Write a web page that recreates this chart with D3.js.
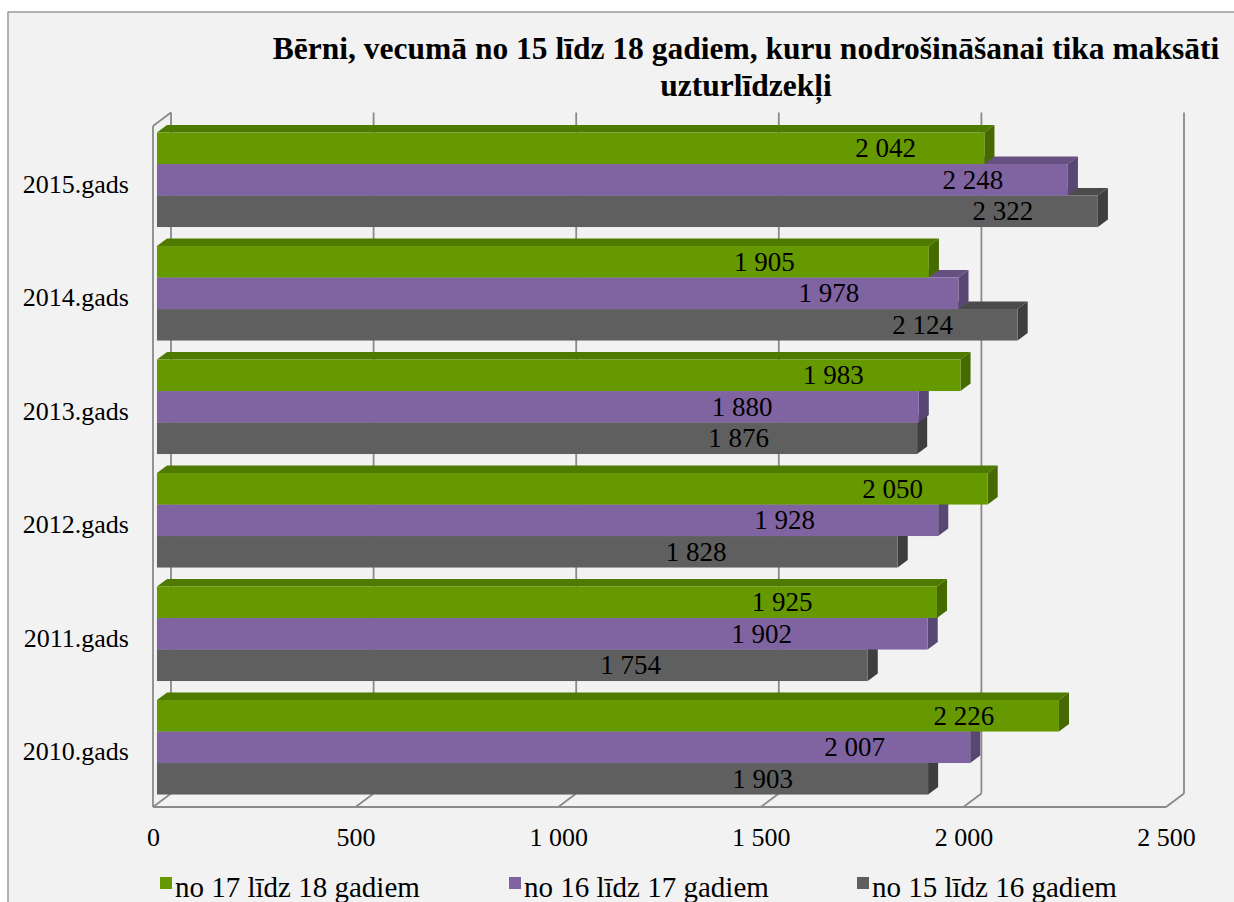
<!DOCTYPE html>
<html>
<head>
<meta charset="utf-8">
<script src="https://cdn.jsdelivr.net/npm/d3@7"></script>
</head>
<body style="margin:0">
<svg id="chart" width="1234" height="902"></svg>
<script>
var years = ["2015.gads", "2014.gads", "2013.gads", "2012.gads", "2011.gads", "2010.gads"];
var age17to18 = [2042, 1905, 1983, 2050, 1925, 2226];
var age16to17 = [2248, 1978, 1880, 1928, 1902, 2007];
var age15to16 = [2322, 2124, 1876, 1828, 1754, 1903];
var seriesNames = ["no 17 līdz 18 gadiem", "no 16 līdz 17 gadiem", "no 15 līdz 16 gadiem"];
var ticks = [0, 500, 1000, 1500, 2000, 2500];
var titleLines = ["Bērni, vecumā no 15 līdz 18 gadiem, kuru nodrošināšanai tika maksāti", "uzturlīdzekļi"];

var svg = d3.select("#chart");
var width = 1234, height = 902;

// colours: front, top, side of every series
var colors = [
    {front: "#669900", top: "#4e7a00", side: "#456b00"},
    {front: "#8064a2", top: "#665082", side: "#584673"},
    {front: "#5f5f5f", top: "#4b4b4b", side: "#3e3e3e"}
];
var gridColor = "#8a8a8a";

var fmt = d3.formatLocale({decimal: ",", thousands: " ", grouping: [3], currency: ["", ""]}).format(",d");

function serif(sel) {
    return sel.attr("font-family", "Liberation Serif").style("font-family", "'Liberation Serif'");
}

// frame
svg.append("rect").attr("x", 8).attr("y", 12).attr("width", width).attr("height", height)
    .attr("fill", "#f2f2f2").attr("stroke", "#8c8c8c").attr("stroke-width", 1.3);

// title
svg.append("g").selectAll("text").data(titleLines).enter().append("text")
    .attr("x", 746).attr("y", function(d, i) { return 59 + i * 36.5; })
    .attr("text-anchor", "middle").attr("font-weight", "bold").attr("font-size", 31.5)
    .call(serif)
    .text(function(d) { return d; });

var plotTop = 126, plotBottom = 807;
var dx = 18, dy = -13.5;          // depth of the 3d box
var fz = 0.22, bz = 0.78;         // bar front and back depth

var x = d3.scaleLinear().domain([0, 2500]).range([153, 1166]);
var y0 = d3.scaleBand().domain(years).range([plotTop, plotBottom]);
var groupPad = (y0.bandwidth() - 94.5) / 2;
var y1 = d3.scaleBand().domain([0, 1, 2]).range([groupPad, y0.bandwidth() - groupPad]);

// walls and gridlines
var grid = svg.append("g").attr("stroke", gridColor).attr("stroke-width", 1.8).attr("fill", "none");
grid.selectAll("line.v").data(ticks).enter().append("line")
    .attr("x1", function(d) { return x(d) + dx; }).attr("x2", function(d) { return x(d) + dx; })
    .attr("y1", plotTop + dy).attr("y2", plotBottom + dy);
grid.selectAll("line.d").data(ticks).enter().append("line")
    .attr("x1", function(d) { return x(d); }).attr("x2", function(d) { return x(d) + dx; })
    .attr("y1", plotBottom).attr("y2", plotBottom + dy);
grid.append("line").attr("x1", x(0)).attr("x2", x(2500)).attr("y1", plotBottom).attr("y2", plotBottom);
grid.append("line").attr("x1", x(0)).attr("x2", x(0)).attr("y1", plotTop).attr("y2", plotBottom);
grid.append("line").attr("x1", x(0)).attr("x2", x(0) + dx).attr("y1", plotTop).attr("y2", plotTop + dy);

// bars, drawn bottom series first so upper bars cover the top faces below them
var data = [];
years.forEach(function(yr, i) {
    var vals = [age17to18[i], age16to17[i], age15to16[i]];
    for (var s = 2; s >= 0; s--) {
        data.push({year: yr, s: s, value: vals[s]});
    }
});

var bars = svg.append("g").selectAll("g").data(data).enter().append("g");

function pts(arr) { return arr.map(function(p) { return p.join(","); }).join(" "); }

bars.each(function(d) {
    var g = d3.select(this);
    var xa = x(0) + fz * dx, xb = x(d.value) + fz * dx;
    var ya = y0(d.year) + y1(d.s) + fz * dy, yb = ya + y1.bandwidth();
    var ox = (bz - fz) * dx, oy = (bz - fz) * dy;
    g.append("polygon").attr("fill", colors[d.s].top)
        .attr("points", pts([[xa, ya], [xa + ox, ya + oy], [xb + ox, ya + oy], [xb, ya]]));
    g.append("polygon").attr("fill", colors[d.s].side)
        .attr("points", pts([[xb, ya], [xb + ox, ya + oy], [xb + ox, yb + oy], [xb, yb]]));
    g.append("rect").attr("fill", colors[d.s].front)
        .attr("x", xa).attr("y", ya).attr("width", xb - xa).attr("height", yb - ya);
});

// data labels sit inside the bar end, further in for the shorter bars
function labelShift(v) { return Math.max(95, 237 - (v - 1754) * 0.48); }
svg.append("g").selectAll("text").data(data).enter().append("text")
    .attr("x", function(d) { return x(d.value) + fz * dx - labelShift(d.value); })
    .attr("y", function(d) { return y0(d.year) + y1(d.s) + fz * dy + y1.bandwidth() / 2 + 9; })
    .attr("text-anchor", "middle").attr("font-size", 27).attr("fill", "#000")
    .call(serif)
    .text(function(d) { return fmt(d.value); });

// axes
var xAxis = svg.append("g").attr("transform", "translate(0," + plotBottom + ")")
    .call(d3.axisBottom(x).tickValues(ticks).tickSize(0).tickFormat(fmt));
xAxis.select(".domain").remove();
xAxis.call(serif).attr("font-size", 26);
xAxis.selectAll("text").attr("y", 39).attr("dy", 0).attr("font-size", 26)
    .call(serif).attr("fill", "#000");

var yAxis = svg.append("g").attr("transform", "translate(" + x(0) + ",0)")
    .call(d3.axisLeft(y0).tickSize(0).tickPadding(24));
yAxis.select(".domain").remove();
yAxis.call(serif).attr("font-size", 26);
yAxis.selectAll("text").attr("dy", 10).attr("font-size", 26)
    .call(serif).attr("fill", "#000");

// legend
var legendX = [160, 509, 857];
var legend = svg.append("g").selectAll("g").data(seriesNames).enter().append("g")
    .attr("transform", function(d, i) { return "translate(" + legendX[i] + ",877)"; });
legend.append("rect").attr("width", 12).attr("height", 12)
    .attr("fill", function(d, i) { return colors[i].front; });
legend.append("text").attr("x", 15).attr("y", 20).attr("font-size", 29)
    .call(serif)
    .text(function(d) { return d; });
</script>
</body>
</html>
